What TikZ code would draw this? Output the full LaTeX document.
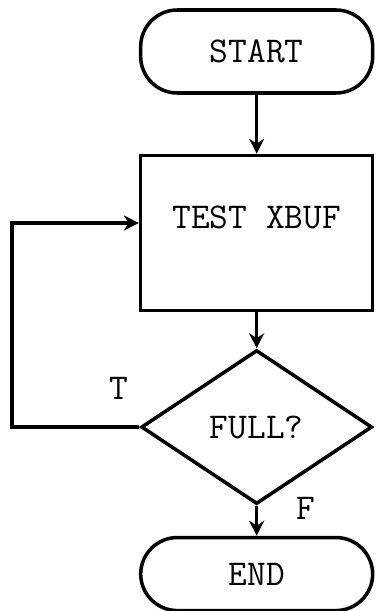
\documentclass[tikz,border=0pt]{standalone}
\usepackage{fontspec}
\usetikzlibrary{positioning, arrows.meta, shapes.geometric}

\begin{document}
\begin{tikzpicture}[
        font=\ttfamily\fontsize{31}{36}\selectfont,
        line width=3pt,
        terminal/.style={draw, rectangle, rounded corners=1.1cm, minimum width=6.96cm, align=center},
        process/.style={draw, rectangle, minimum width=6.96cm, inner sep=0pt, text height=2.19cm, text depth=2.46cm},
        decision/.style={draw, diamond, minimum width=6.93cm, minimum height=4.62cm, inner sep=0pt},
        lbl/.style={inner sep=0pt},
        arrow/.style={-{Stealth[length=4.5mm, width=4.5mm]}}
    ]
    \useasboundingbox (0,0) rectangle (11.28,-18.33);

    \node[terminal, minimum height=2.49cm] (Start) at (7.7,-1.545) {START};
    \node[process, below=1.77cm of Start] (Test) {TEST XBUF};
    \node[decision, below=1.08cm of Test] (Full) {FULL?};
    \node[terminal, minimum height=2.19cm, below=0.9cm of Full] (End) {END};

    \node[lbl, above left=0.78cm and 0.27cm of Full.west] (T) {T};
    \node[lbl, right=1.14cm of Full.south, yshift=-0.09cm] (F) {F};
    \coordinate (loop) at (0.36,-6.69);

    \draw[arrow] (Start) -- (Test);
    \draw[arrow] (Test) -- (Full);
    \draw[arrow] (Full) -- (End);
    \draw[arrow] (Full.west) -| (loop) -- (Test.west |- loop);

\end{tikzpicture}
\end{document}
